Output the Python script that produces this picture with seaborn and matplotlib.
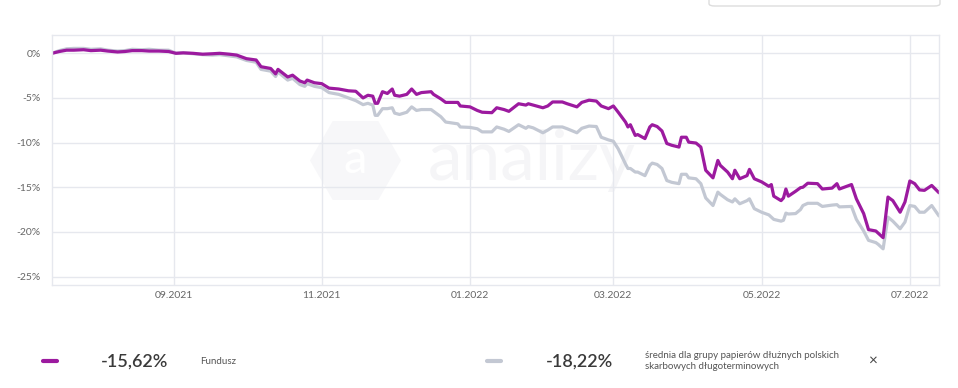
"""Fund vs peer-group cumulative return chart (analizy.pl style)."""
import matplotlib

matplotlib.use("Agg")
import matplotlib.dates as mdates
import matplotlib.pyplot as plt
import pandas as pd
import seaborn as sns
from matplotlib.lines import Line2D
from matplotlib.patches import FancyBboxPatch
from matplotlib.ticker import FuncFormatter

# --- data (cumulative return, %) ---
dates = [
    "2021-07-13", "2021-07-16", "2021-07-19", "2021-07-22", "2021-07-26", "2021-07-29",
    "2021-08-02", "2021-08-05", "2021-08-09", "2021-08-12", "2021-08-15", "2021-08-19",
    "2021-08-22", "2021-08-26", "2021-08-30",
    "2021-09-02", "2021-09-05", "2021-09-09", "2021-09-13", "2021-09-17", "2021-09-20",
    "2021-09-24", "2021-09-27",
    "2021-10-01", "2021-10-05", "2021-10-07", "2021-10-11", "2021-10-13", "2021-10-14",
    "2021-10-18", "2021-10-20", "2021-10-23", "2021-10-25", "2021-10-26", "2021-10-29",
    "2021-11-01", "2021-11-04", "2021-11-06", "2021-11-08", "2021-11-12", "2021-11-15",
    "2021-11-18", "2021-11-20", "2021-11-22", "2021-11-23", "2021-11-24", "2021-11-26",
    "2021-11-28", "2021-11-30",
    "2021-12-01", "2021-12-03", "2021-12-06", "2021-12-08", "2021-12-10", "2021-12-12",
    "2021-12-16", "2021-12-17", "2021-12-20", "2021-12-22", "2021-12-27", "2021-12-28",
    "2022-01-01", "2022-01-04", "2022-01-06", "2022-01-10", "2022-01-12", "2022-01-15",
    "2022-01-17", "2022-01-21", "2022-01-24", "2022-01-25", "2022-01-27", "2022-01-31",
    "2022-02-02", "2022-02-04", "2022-02-08", "2022-02-10", "2022-02-14", "2022-02-16",
    "2022-02-19", "2022-02-22", "2022-02-24", "2022-02-27",
    "2022-03-01", "2022-03-03", "2022-03-06", "2022-03-07", "2022-03-08", "2022-03-10",
    "2022-03-11", "2022-03-14", "2022-03-16", "2022-03-17", "2022-03-19", "2022-03-21",
    "2022-03-23", "2022-03-25", "2022-03-28", "2022-03-29", "2022-03-31",
    "2022-04-01", "2022-04-04", "2022-04-06", "2022-04-08", "2022-04-11", "2022-04-13",
    "2022-04-14", "2022-04-17", "2022-04-19", "2022-04-20", "2022-04-22", "2022-04-25",
    "2022-04-26", "2022-04-28",
    "2022-05-01", "2022-05-04", "2022-05-05", "2022-05-06", "2022-05-09", "2022-05-10",
    "2022-05-11", "2022-05-12", "2022-05-15", "2022-05-17", "2022-05-18", "2022-05-20",
    "2022-05-24", "2022-05-26", "2022-05-30",
    "2022-06-01", "2022-06-02", "2022-06-07", "2022-06-09", "2022-06-12", "2022-06-14",
    "2022-06-17", "2022-06-18", "2022-06-20", "2022-06-22", "2022-06-24", "2022-06-27",
    "2022-06-29",
    "2022-07-01", "2022-07-03", "2022-07-05", "2022-07-07", "2022-07-10", "2022-07-13",
]

fund = [
    0.0, 0.2, 0.35, 0.35, 0.4, 0.3,
    0.35, 0.25, 0.15, 0.2, 0.3, 0.3, 0.25, 0.25, 0.2,
    0.0, 0.05, 0.0, -0.1, -0.05, 0.0, -0.1, -0.2,
    -0.6, -0.75, -1.5, -1.7, -2.3, -1.8, -2.65, -2.45, -3.1, -3.3, -3.0, -3.3,
    -3.4, -3.9, -3.95, -4.0, -4.2, -4.25, -5.0, -4.7, -4.8, -5.6, -5.6, -4.3, -4.5, -4.0,
    -4.7, -4.8, -4.6, -4.0, -4.6, -4.4, -4.3, -4.6, -5.1, -5.5, -5.5, -5.9,
    -6.0, -6.4, -6.6, -6.65, -6.1, -6.3, -6.5, -5.65, -5.8, -5.65, -5.8, -6.1,
    -5.9, -5.45, -5.45, -5.65, -6.0, -5.5, -5.25, -5.35, -5.9, -6.2,
    -5.9, -6.6, -7.7, -8.25, -8.0, -9.2, -9.1, -9.55, -8.25, -8.0, -8.2, -8.7,
    -10.1, -10.3, -10.5, -9.4, -9.4,
    -9.95, -10.05, -10.5, -13.1, -13.95, -12.0, -12.55, -13.3, -14.05, -13.1, -14.05,
    -13.7, -13.0, -14.05,
    -14.4, -14.9, -14.7, -16.0, -16.5, -16.2, -15.2, -16.0, -15.45, -15.05, -15.0,
    -14.55, -14.6, -15.2, -15.1,
    -14.6, -15.2, -14.7, -16.3, -17.95, -19.75, -19.9, -20.15, -20.65, -16.1, -16.5,
    -17.8, -16.65,
    -14.3, -14.6, -15.3, -15.35, -14.8, -15.62,
]

group = [
    0.0, 0.3, 0.5, 0.55, 0.55, 0.45,
    0.5, 0.35, 0.25, 0.3, 0.45, 0.4, 0.45, 0.35, 0.35,
    0.0, 0.05, -0.05, -0.15, -0.2, -0.15, -0.3, -0.4,
    -0.8, -1.0, -1.8, -2.0, -2.6, -2.1, -3.0, -2.8, -3.5, -3.7, -3.4, -3.7,
    -3.85, -4.4, -4.5, -4.6, -5.0, -5.3, -5.75, -5.6, -5.8, -6.95, -6.95, -6.2, -6.2, -6.1,
    -6.7, -6.85, -6.6, -6.0, -6.4, -6.3, -6.3, -6.5, -7.1, -7.7, -7.9, -8.25,
    -8.3, -8.45, -8.8, -8.8, -8.25, -8.5, -8.75, -8.0, -8.4, -8.2, -8.35, -8.9,
    -8.6, -8.25, -8.25, -8.45, -8.9, -8.4, -8.15, -8.2, -9.4, -9.7,
    -9.85, -10.7, -12.4, -12.9, -12.9, -13.3, -13.3, -13.7, -12.55, -12.3, -12.45, -12.9,
    -14.25, -14.45, -14.6, -13.55, -13.55,
    -13.95, -14.05, -14.6, -16.2, -17.05, -15.55, -15.8, -16.4, -16.65, -16.3, -16.85,
    -16.5, -16.3, -17.4,
    -17.8, -18.1, -18.35, -18.6, -18.8, -18.7, -17.9, -18.0, -17.95, -17.5, -17.05,
    -16.8, -16.8, -17.15, -17.0,
    -16.95, -17.2, -17.15, -18.6, -19.9, -20.95, -21.2, -21.4, -21.9, -18.35, -18.8,
    -19.65, -18.9,
    -17.05, -17.15, -17.8, -17.8, -17.05, -18.22,
]

yticks = [0, -5, -10, -15, -20, -25]
fund_label = "Fundusz"
group_label = "średnia dla grupy papierów dłużnych polskich\nskarbowych długoterminowych"
fund_total = "-15,62%"
group_total = "-18,22%"

FUND_COLOR = "#9c1a9f"
GROUP_COLOR = "#c3c8d3"
GRID_COLOR = "#e6e8ee"
W, H = 958, 388

sns.set_theme(style="white")
plt.rcParams["font.family"] = ["Lato", "DejaVu Sans"]

df = pd.DataFrame({"date": pd.to_datetime(dates), "fund": fund, "group": group})

fig = plt.figure(figsize=(W / 100, H / 100), dpi=100)
ax = fig.add_axes([52 / W, 1 - 285 / H, (939 - 52) / W, (285 - 35) / H])

# faint watermark
ax.scatter([0.342], [0.5], marker="H", s=4300, color="#f7f7f9", transform=ax.transAxes,
           zorder=0, linewidths=0)
ax.text(0.342, 0.5, "a", transform=ax.transAxes, ha="center", va="center",
        fontsize=34, color="white", zorder=0)
ax.text(0.541, 0.5, "analizy", transform=ax.transAxes, ha="center", va="center",
        fontsize=50, color="#f5f5f7", zorder=0)

sns.lineplot(data=df, x="date", y="group", color=GROUP_COLOR, lw=2.3, ax=ax,
             solid_joinstyle="round")
sns.lineplot(data=df, x="date", y="fund", color=FUND_COLOR, lw=2.3, ax=ax,
             solid_joinstyle="round")

ax.set_xlim(pd.Timestamp("2021-07-13"), pd.Timestamp("2022-07-13"))
ax.set_ylim(-25.95, 2.05)
ax.set_yticks(yticks)
ax.yaxis.set_major_formatter(FuncFormatter(lambda v, _: f"{int(round(v))}%"))
ax.xaxis.set_major_locator(mdates.MonthLocator(bymonth=[1, 3, 5, 7, 9, 11]))
ax.xaxis.set_major_formatter(mdates.DateFormatter("%m.%Y"))
ax.set_xlabel("")
ax.set_ylabel("")
ax.grid(True, color=GRID_COLOR, lw=1)
ax.set_axisbelow(True)
for sp in ax.spines.values():
    sp.set_color(GRID_COLOR)
    sp.set_linewidth(1)
ax.tick_params(axis="y", length=0, labelsize=7.5, colors="#666666", pad=8)
ax.tick_params(axis="x", length=0, labelsize=7.5, colors="#666666", pad=4.5)


# legend row at the bottom
def fx(px):
    return px / W


def fy(py):
    return 1 - py / H


fig.add_artist(Line2D([fx(43), fx(57)], [fy(361), fy(361)], lw=3, color=FUND_COLOR,
                      solid_capstyle="round"))
fig.text(fx(101), fy(361.5), fund_total, fontsize=13, color="#3a3a3a", va="center",
         fontweight="semibold")
fig.text(fx(200), fy(361), fund_label, fontsize=7, color="#555555", va="center")

fig.add_artist(Line2D([fx(487), fx(501)], [fy(361), fy(361)], lw=3, color=GROUP_COLOR,
                      solid_capstyle="round"))
fig.text(fx(546), fy(361.5), group_total, fontsize=13, color="#3a3a3a", va="center",
         fontweight="semibold")
fig.text(fx(645), fy(361), group_label, fontsize=7, color="#555555", va="center",
         linespacing=1.35)
fig.text(fx(873), fy(361), "×", fontsize=11, color="#444444", va="center", ha="center")

# edge of a dropdown box cut by the top of the picture
fig.add_artist(FancyBboxPatch((fx(709), fy(6)), fx(940) - fx(709), 0.05,
                              boxstyle="round,pad=0,rounding_size=0.006",
                              transform=fig.transFigure, facecolor="white",
                              edgecolor="#dddddd", lw=1))

fig.savefig("out.png", dpi=100)
